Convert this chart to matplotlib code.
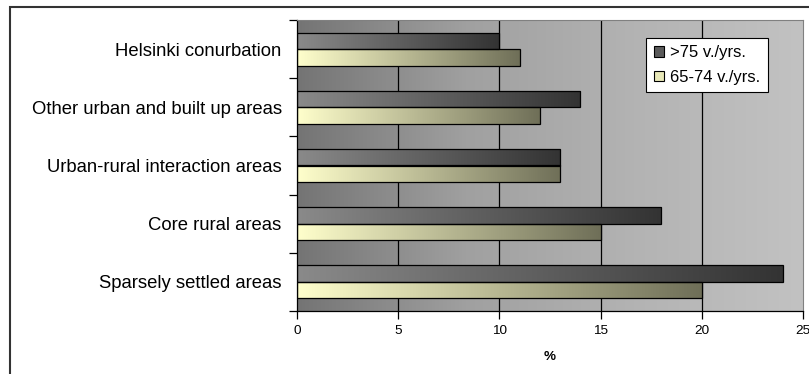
import numpy as np
import matplotlib.pyplot as plt
from matplotlib.colors import LinearSegmentedColormap
from matplotlib.patches import Rectangle, Patch

plt.rcParams['font.family'] = ['Liberation Sans', 'DejaVu Sans']

categories = ['Helsinki conurbation', 'Other urban and built up areas',
              'Urban-rural interaction areas', 'Core rural areas',
              'Sparsely settled areas']
over75 = [10, 14, 13, 18, 24]
age65_74 = [11, 12, 13, 15, 20]
series_names = ['>75 v./yrs.', '65-74 v./yrs.']
xticks = [0, 5, 10, 15, 20, 25]

fig = plt.figure(figsize=(8.09, 3.74), dpi=100)
ax = fig.add_axes([297 / 809, 1 - 311 / 374, 506 / 809, 291 / 374])

n = len(categories)
y = np.arange(n)[::-1]
h = 0.285

dark_cmap = LinearSegmentedColormap.from_list('dark', ['#8a8a8a', '#333333'])
light_cmap = LinearSegmentedColormap.from_list('light', ['#ffffcc', '#6f6f58'])
bg_cmap = LinearSegmentedColormap.from_list('bg', ['#747474', '#a0a0a0', '#b3b3b3', '#c2c2c2'])

ax.set_xlim(0, 25)
ax.set_ylim(-0.5, n - 0.5)

# background gradient
grad = np.linspace(0, 1, 256).reshape(1, -1)
ax.imshow(grad, cmap=bg_cmap, extent=[0, 25, -0.5, n - 0.5], aspect='auto', zorder=0)
for gx in xticks[1:-1]:
    ax.axvline(gx, color='black', lw=0.9, zorder=1)

bars1 = ax.barh(y + h / 2, over75, height=h, facecolor='none', edgecolor='black', lw=0.9, zorder=3)
bars2 = ax.barh(y - h / 2, age65_74, height=h, facecolor='none', edgecolor='black', lw=0.9, zorder=3)

for bars, cmap in [(bars1, dark_cmap), (bars2, light_cmap)]:
    for b in bars:
        x0, y0 = b.get_x(), b.get_y()
        im = ax.imshow(grad, cmap=cmap, extent=[x0, x0 + b.get_width(), y0, y0 + b.get_height()],
                       aspect='auto', zorder=2)
        im.set_clip_path(b)

ax.set_xlim(0, 25)
ax.set_ylim(-0.5, n - 0.5)

ax.set_yticks(np.arange(-0.5, n, 1))
ax.set_yticklabels([])
ax.set_yticks(y, categories, minor=True)
ax.tick_params(axis='y', which='major', direction='out', length=6, width=0.9)
ax.tick_params(axis='y', which='minor', length=0, labelsize=13.3, pad=11)
ax.set_xticks(xticks)
ax.tick_params(axis='x', direction='out', length=6, width=0.9, labelsize=9.7, pad=4)
ax.set_xlabel('%', fontsize=9.7, fontweight='bold', labelpad=10)

for s in ['top', 'right']:
    ax.spines[s].set_color('#808080')
    ax.spines[s].set_linewidth(0.8)
for s in ['left', 'bottom']:
    ax.spines[s].set_color('black')
    ax.spines[s].set_linewidth(0.9)

handles = [Patch(facecolor='#5a5a5a', edgecolor='black', lw=0.8),
           Patch(facecolor='#e8e8b8', edgecolor='black', lw=0.8)]
leg = ax.legend(handles, series_names, loc='upper left', bbox_to_anchor=(349 / 506, 1 - 18 / 291),
                fontsize=12, frameon=True, fancybox=False, edgecolor='black',
                handlelength=0.6, handleheight=0.6, handletextpad=0.4,
                borderpad=0.45, labelspacing=0.55, borderaxespad=0)
leg.get_frame().set_linewidth(0.8)
leg.get_frame().set_alpha(1)

fig.patches.append(Rectangle((10 / 809, -0.1), 1.2, 1 - 7 / 374 + 0.1, transform=fig.transFigure,
                             fill=False, edgecolor='#333333', lw=1.5))

fig.savefig('out.png', dpi=100)
